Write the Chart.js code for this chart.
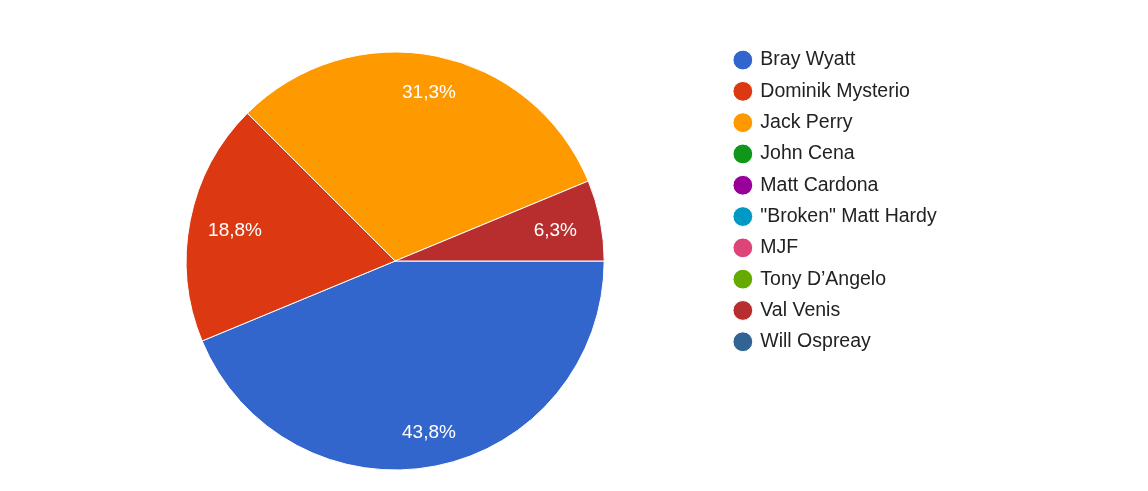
<!DOCTYPE html>
<html>
<head>
<meta charset="utf-8">
<script src="https://cdn.jsdelivr.net/npm/chart.js@4/dist/chart.umd.min.js"></script>
<style>
  html, body { margin: 0; padding: 0; background: #fff; }
  #wrap { position: relative; width: 1148px; height: 491px; }
</style>
</head>
<body>
<div id="wrap"><canvas id="pieChart"></canvas></div>
<script>
// categories and answer counts (16 responses -> 43,8 / 18,8 / 31,3 / 6,3 %)
const labels = ['Bray Wyatt', 'Dominik Mysterio', 'Jack Perry', 'John Cena', 'Matt Cardona',
  '"Broken" Matt Hardy', 'MJF', 'Tony D\u2019Angelo', 'Val Venis', 'Will Ospreay'];
const counts = [7, 3, 5, 0, 0, 0, 0, 0, 1, 0];

const palette = ['#3366cc', '#dc3912', '#ff9900', '#109618', '#990099',
  '#0099c6', '#dd4477', '#66aa00', '#b82e2e', '#316395'];

const FONT = '"Liberation Sans", Arial, sans-serif';

// white percentage labels inside the slices
const sliceLabels = {
  id: 'sliceLabels',
  afterDatasetsDraw(chart) {
    const ctx = chart.ctx;
    const meta = chart.getDatasetMeta(0);
    const values = chart.data.datasets[0].data;
    const total = values.reduce((a, b) => a + b, 0);
    ctx.save();
    ctx.fillStyle = '#ffffff';
    ctx.font = '19px ' + FONT;
    ctx.textAlign = 'center';
    ctx.textBaseline = 'middle';
    meta.data.forEach((arc, i) => {
      if (!values[i]) return;
      const p = arc.getProps(['x', 'y', 'startAngle', 'endAngle', 'outerRadius'], true);
      const mid = (p.startAngle + p.endAngle) / 2;
      const d = p.outerRadius * (0.84 - 0.06 * Math.abs(Math.cos(mid)));
      const txt = (values[i] / total * 100).toFixed(1).replace('.', ',') + '%';
      ctx.fillText(txt, p.x + Math.cos(mid) * d, p.y + Math.sin(mid) * d + 2);
    });
    ctx.restore();
  }
};

new Chart(document.getElementById('pieChart'), {
  type: 'pie',
  data: {
    labels: labels,
    datasets: [{
      data: counts,
      backgroundColor: palette,
      borderColor: '#ffffff',
      borderWidth: 1,
      radius: 209
    }]
  },
  options: {
    responsive: true,
    maintainAspectRatio: false,
    animation: false,
    rotation: 90,
    layout: { padding: { left: 67, top: 38.5, bottom: 7.5, right: 201.3 } },
    plugins: {
      tooltip: { enabled: false },
      legend: {
        position: 'right',
        align: 'start',
        labels: {
          usePointStyle: true,
          pointStyle: 'circle',
          boxWidth: 15.4,
          boxHeight: 14,
          padding: 11.8,
          color: '#222222',
          font: { family: FONT, size: 19.5 }
        }
      }
    }
  },
  plugins: [sliceLabels]
});
</script>
</body>
</html>
